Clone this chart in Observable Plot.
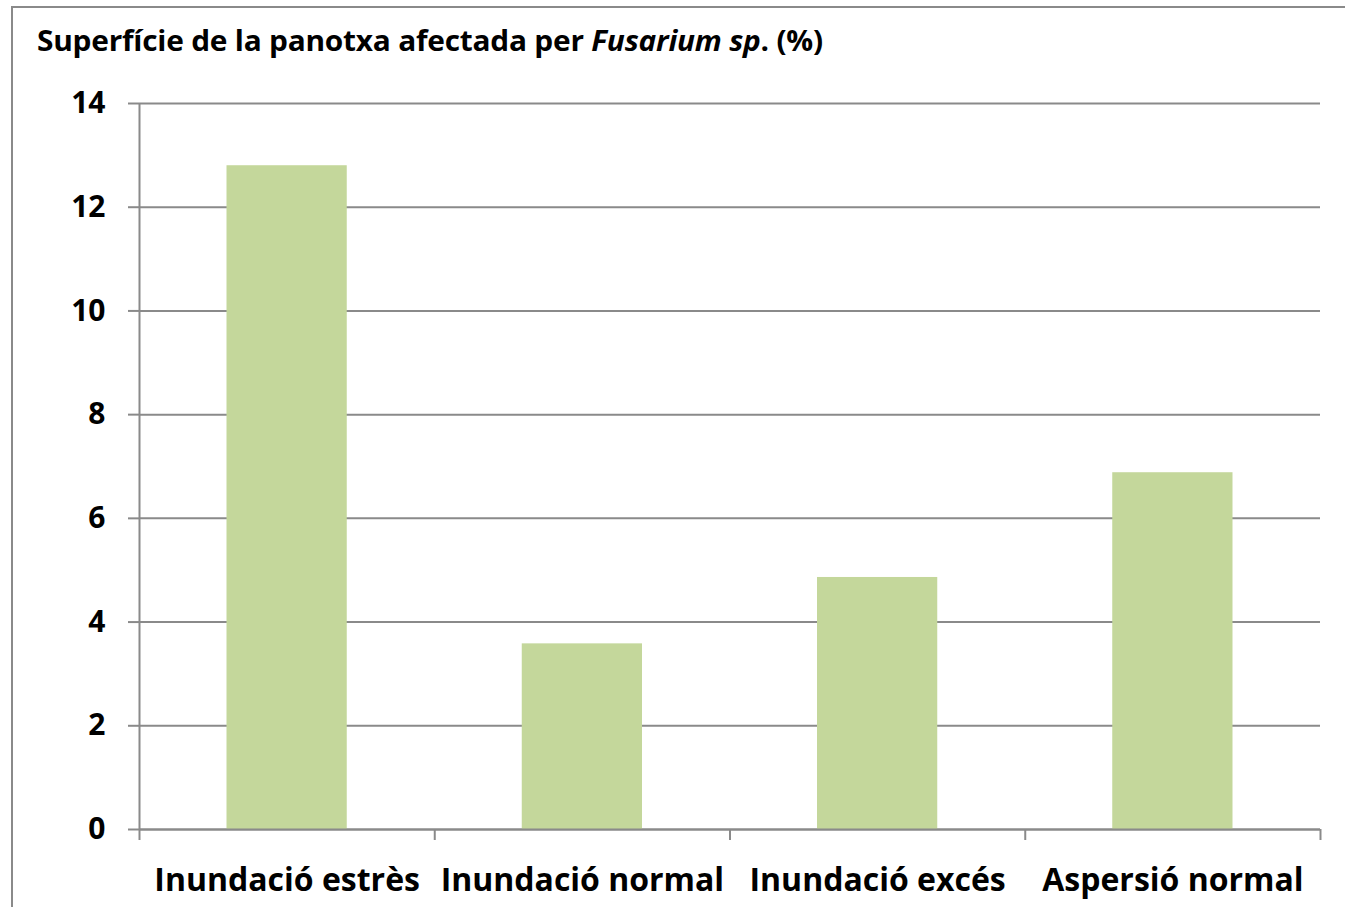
<!DOCTYPE html>
<html>
<head>
<meta charset="utf-8">
<script src="https://cdn.jsdelivr.net/npm/d3@7"></script>
<script src="https://cdn.jsdelivr.net/npm/@observablehq/plot@0.6"></script>
<style>
  html, body { margin: 0; padding: 0; background: #fff; }
  #wrap { position: relative; width: 1345px; height: 907px; overflow: hidden; font-family: "Open Sans", Lato, sans-serif; }
  #frame { position: absolute; left: 11px; top: 6px; width: 1400px; height: 1000px; border-left: 2px solid #8a8a8a; border-top: 2px solid #8a8a8a; }
  #title { position: absolute; left: 37px; top: 26px; font-size: 28px; font-weight: bold; color: #000; white-space: nowrap; line-height: 1; letter-spacing: -0.2px; transform: scaleX(1.065); transform-origin: 0 0; }
  #chart { position: absolute; left: 0; top: 60px; }
</style>
</head>
<body>
<div id="wrap">
  <div id="frame"></div>
  <div id="title">Superfície de la panotxa afectada per <i>Fusarium sp</i>. (%)</div>
  <div id="chart"></div>
</div>
<script>
const categories = ["Inundació estrès", "Inundació normal", "Inundació excés", "Aspersió normal"];
const values = [12.8, 3.58, 4.86, 6.88];
const yTicks = [0, 2, 4, 6, 8, 10, 12, 14];

const data = categories.map((c, i) => ({i, category: c, value: values[i]}));
const grey = "#8a8a8a";
const boundaries = d3.range(categories.length + 1);
const centers = categories.map((_, i) => i + 0.5);

const plot = Plot.plot({
  width: 1345,
  height: 847,
  marginTop: 43,
  marginBottom: 78,
  marginLeft: 139,
  marginRight: 25,
  style: {fontFamily: "'Open Sans', Lato, sans-serif", background: "transparent"},
  x: {domain: [0, categories.length], label: null},
  y: {domain: [0, 14], label: null},
  marks: [
    Plot.gridY(yTicks, {stroke: grey, strokeOpacity: 1, strokeWidth: 2}),
    Plot.rectY(data, {x1: "i", x2: d => d.i + 1, y: "value", insetLeft: 87.5, insetRight: 87.5, fill: "#c4d79b"}),
    Plot.ruleX([0], {stroke: grey, strokeWidth: 2}),
    Plot.ruleY([0], {stroke: grey, strokeWidth: 2}),
    Plot.axisY({ticks: yTicks, tickSize: 11, tickFormat: () => "", stroke: grey, strokeWidth: 2, label: null}),
    Plot.axisY({ticks: yTicks, tickSize: 0, tickPadding: 34, fontSize: 30, fontWeight: "bold", fill: "#000", color: "#000", label: null}),
    Plot.axisX({ticks: boundaries, tickSize: 11, tickFormat: () => "", stroke: grey, strokeWidth: 2, label: null}),
    Plot.axisX({ticks: centers, tickSize: 0, tickPadding: 39, tickFormat: v => categories[Math.floor(v)], fontSize: 32, fontWeight: "bold", fill: "#000", color: "#000", label: null})
  ]
});
document.getElementById("chart").appendChild(plot);
</script>
</body>
</html>
